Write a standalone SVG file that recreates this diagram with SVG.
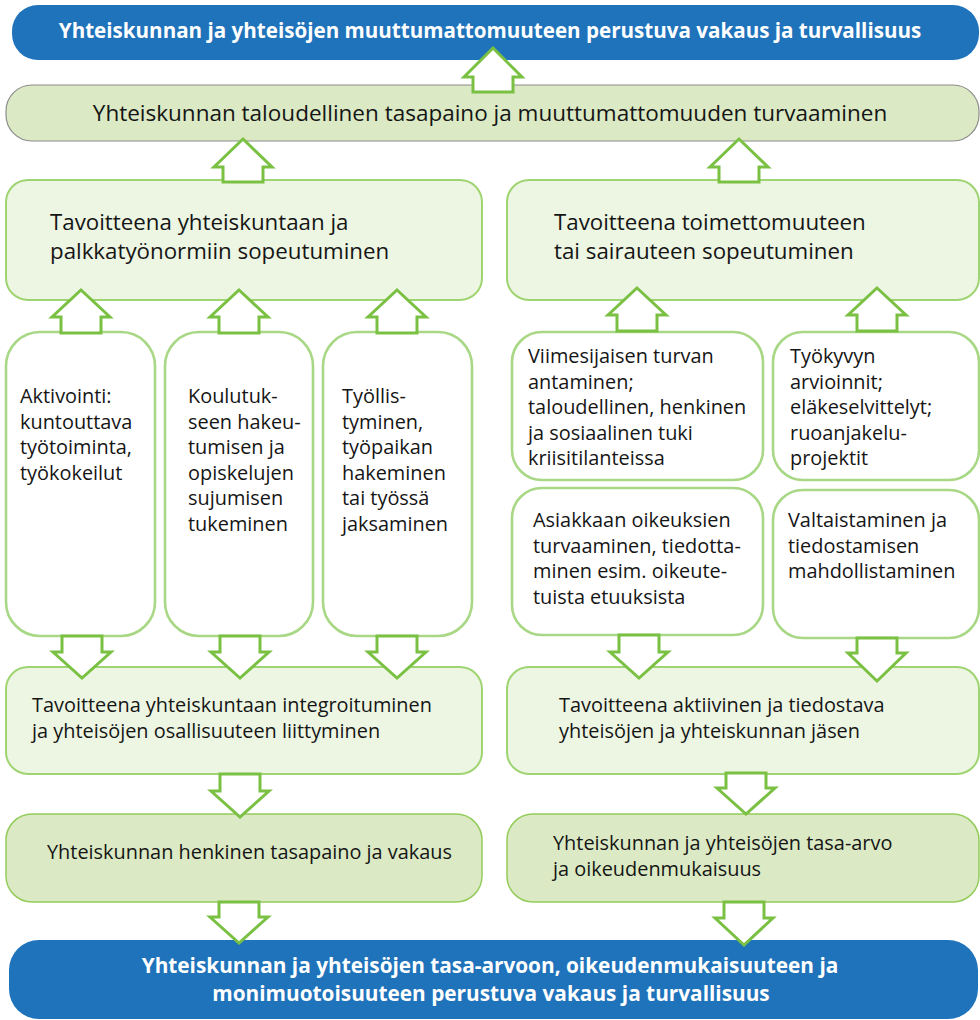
<svg xmlns="http://www.w3.org/2000/svg" width="980" height="1020" viewBox="0 0 980 1020">
  <style>
    .t { font-family: "Open Sans", Lato, sans-serif; fill: #151515; }
    .w { font-family: "Open Sans", Lato, sans-serif; fill: #ffffff; font-weight: bold; }
    .s { font-size: 19.9px; }
    .blue { fill: #1f73bb; }
    .pale { fill: #edf6e3; stroke: #9fd472; stroke-width: 2; }
    .dark { fill: #dbeac4; stroke: #94cc5a; stroke-width: 1.5; }
    .col { fill: #ffffff; stroke: #a8d885; stroke-width: 2.6; }
    .arr { fill: #ffffff; stroke: #7ac143; stroke-width: 3; stroke-linejoin: miter; }
  </style>

  <!-- top goal -->
  <g id="top-goal">
    <rect class="blue" x="12" y="5" width="967" height="55" rx="26"/>
    <text class="w" x="490" y="38" font-size="20.6" text-anchor="middle">Yhteiskunnan ja yhteisöjen muuttumattomuuteen perustuva vakaus ja turvallisuus</text>
  </g>

  <g id="economic-balance">
    <rect x="6" y="85" width="973" height="56" rx="26" fill="#dbeac4" stroke="#8c8c8c" stroke-width="1.2"/>
    <text class="t" x="490" y="121" font-size="22.5" text-anchor="middle">Yhteiskunnan taloudellinen tasapaino ja muuttumattomuuden turvaaminen</text>
  </g>

  <g id="goal-adapt-work">
    <rect class="pale" x="6" y="180" width="476" height="120" rx="22"/>
    <text class="t" font-size="22.3"><tspan x="50" y="230">Tavoitteena yhteiskuntaan ja</tspan><tspan x="50" y="259">palkkatyönormiin sopeutuminen</tspan></text>
  </g>

  <g id="goal-adapt-idle">
    <rect class="pale" x="507" y="180" width="472" height="120" rx="22"/>
    <text class="t" font-size="22.3"><tspan x="554" y="230">Tavoitteena toimettomuuteen</tspan><tspan x="554" y="259">tai sairauteen sopeutuminen</tspan></text>
  </g>

  <g id="activation">
    <rect class="col" x="6" y="332" width="149" height="304" rx="34"/>
    <text class="t s"><tspan x="20" y="403">Aktivointi:</tspan><tspan x="20" y="428.5">kuntouttava</tspan><tspan x="20" y="454">työtoiminta,</tspan><tspan x="20" y="479.5">työkokeilut</tspan></text>
  </g>

  <g id="education">
    <rect class="col" x="165" y="332" width="148" height="304" rx="34"/>
    <text class="t s"><tspan x="188" y="403">Koulutuk-</tspan><tspan x="188" y="428.5">seen hakeu-</tspan><tspan x="188" y="454">tumisen ja</tspan><tspan x="188" y="479.5">opiskelujen</tspan><tspan x="188" y="505">sujumisen</tspan><tspan x="188" y="530.5">tukeminen</tspan></text>
  </g>

  <g id="employment">
    <rect class="col" x="323" y="332" width="149" height="304" rx="34"/>
    <text class="t s"><tspan x="342" y="403">Työllis-</tspan><tspan x="342" y="428.5">tyminen,</tspan><tspan x="342" y="454">työpaikan</tspan><tspan x="342" y="479.5">hakeminen</tspan><tspan x="342" y="505">tai työssä</tspan><tspan x="342" y="530.5">jaksaminen</tspan></text>
  </g>

  <g id="last-resort">
    <rect class="col" x="512" y="332" width="251" height="148" rx="30"/>
    <text class="t s"><tspan x="528" y="363">Viimesijaisen turvan</tspan><tspan x="528" y="388.5">antaminen;</tspan><tspan x="528" y="414">taloudellinen, henkinen</tspan><tspan x="528" y="439.5">ja sosiaalinen tuki</tspan><tspan x="528" y="465">kriisitilanteissa</tspan></text>
  </g>

  <g id="work-ability">
    <rect class="col" x="773" y="332" width="206" height="148" rx="30"/>
    <text class="t s"><tspan x="790" y="363">Työkyvyn</tspan><tspan x="790" y="388.5">arvioinnit;</tspan><tspan x="790" y="414">eläkeselvittelyt;</tspan><tspan x="790" y="439.5">ruoanjakelu-</tspan><tspan x="790" y="465">projektit</tspan></text>
  </g>

  <g id="client-rights">
    <rect class="col" x="512" y="488" width="251" height="147" rx="30"/>
    <text class="t s"><tspan x="533" y="527">Asiakkaan oikeuksien</tspan><tspan x="533" y="552.5">turvaaminen, tiedotta-</tspan><tspan x="533" y="578">minen esim. oikeute-</tspan><tspan x="533" y="603.5">tuista etuuksista</tspan></text>
  </g>

  <g id="empowerment">
    <rect class="col" x="773" y="490" width="206" height="148" rx="30"/>
    <text class="t s"><tspan x="788" y="527">Valtaistaminen ja</tspan><tspan x="788" y="552.5">tiedostamisen</tspan><tspan x="788" y="578">mahdollistaminen</tspan></text>
  </g>

  <g id="goal-integration">
    <rect class="pale" x="6" y="667" width="476" height="107" rx="22"/>
    <text class="t s"><tspan x="32" y="712">Tavoitteena yhteiskuntaan integroituminen</tspan><tspan x="32" y="737.5">ja yhteisöjen osallisuuteen liittyminen</tspan></text>
  </g>

  <g id="goal-active-member">
    <rect class="pale" x="507" y="667" width="472" height="107" rx="22"/>
    <text class="t s"><tspan x="559" y="712">Tavoitteena aktiivinen ja tiedostava</tspan><tspan x="559" y="737.5">yhteisöjen ja yhteiskunnan jäsen</tspan></text>
  </g>

  <g id="mental-balance">
    <rect class="dark" x="6" y="814" width="476" height="88" rx="26"/>
    <text class="t s" x="47" y="859">Yhteiskunnan henkinen tasapaino ja vakaus</text>
  </g>

  <g id="equality">
    <rect class="dark" x="507" y="814" width="472" height="88" rx="26"/>
    <text class="t s"><tspan x="553" y="850">Yhteiskunnan ja yhteisöjen tasa-arvo</tspan><tspan x="553" y="876">ja oikeudenmukaisuus</tspan></text>
  </g>

  <g id="bottom-goal">
    <rect class="blue" x="9" y="940" width="969" height="79" rx="30"/>
    <text class="w" font-size="20.8" text-anchor="middle"><tspan x="490" y="973">Yhteiskunnan ja yhteisöjen tasa-arvoon, oikeudenmukaisuuteen ja</tspan><tspan x="491" y="1001">monimuotoisuuteen perustuva vakaus ja turvallisuus</tspan></text>
  </g>

  <!-- block arrows -->
  <g id="connectors">
    <!-- upward -->
    <polygon class="arr" points="493,48 522,77 513,77 513,92 473,92 473,77 464,77"/>
    <polygon class="arr" points="243,139 272,167 263,167 263,182 223,182 223,167 214,167"/>
    <polygon class="arr" points="739,139 768,167 759,167 759,182 719,182 719,167 710,167"/>
    <polygon class="arr" points="81,290 110,317 101,317 101,333 61,333 61,317 52,317"/>
    <polygon class="arr" points="239,290 268,317 259,317 259,333 219,333 219,317 210,317"/>
    <polygon class="arr" points="397,290 426,317 417,317 417,333 377,333 377,317 368,317"/>
    <polygon class="arr" points="637,288 666,315 657,315 657,331 617,331 617,315 608,315"/>
    <polygon class="arr" points="877,288 906,315 897,315 897,331 857,331 857,315 848,315"/>
    <!-- downward -->
    <polygon class="arr" points="62,636 102,636 102,652 111,652 82,678 53,652 62,652"/>
    <polygon class="arr" points="220,636 260,636 260,652 269,652 240,678 211,652 220,652"/>
    <polygon class="arr" points="377,636 417,636 417,652 426,652 397,678 368,652 377,652"/>
    <polygon class="arr" points="619,635 659,635 659,652 668,652 639,678 610,652 619,652"/>
    <polygon class="arr" points="857,638 897,638 897,653 906,653 877,681 848,653 857,653"/>
    <polygon class="arr" points="220,774 260,774 260,791 269,791 240,817 211,791 220,791"/>
    <polygon class="arr" points="726,773 766,773 766,788 775,788 746,814 717,788 726,788"/>
    <polygon class="arr" points="219,902 259,902 259,917 268,917 239,943 210,917 219,917"/>
    <polygon class="arr" points="724,902 764,902 764,918 773,918 744,945 715,918 724,918"/>
  </g>
</svg>
